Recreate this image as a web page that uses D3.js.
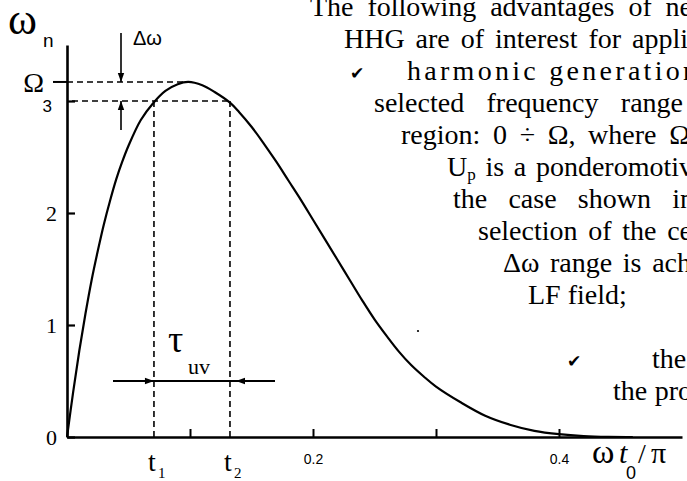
<!DOCTYPE html>
<html>
<head>
<meta charset="utf-8">
<script src="https://cdn.jsdelivr.net/npm/d3@7/dist/d3.min.js"></script>
<style>
  html, body { margin: 0; padding: 0; background: #fff; }
  svg { display: block; }
  text { fill: #000; }
</style>
</head>
<body>
<svg id="chart" width="687" height="481"></svg>
<script>
// ---- data ----
const tValues     = [0, 0.005, 0.01, 0.015, 0.02, 0.025, 0.03, 0.035, 0.04, 0.045, 0.05, 0.06, 0.07, 0.08, 0.09, 0.0986,
                     0.11, 0.12, 0.1325, 0.14, 0.15, 0.16, 0.17, 0.18, 0.19, 0.2, 0.21, 0.22, 0.23, 0.24, 0.25, 0.26,
                     0.27, 0.28, 0.29, 0.3, 0.32, 0.34, 0.36, 0.38, 0.4, 0.42, 0.44, 0.46];
const omegaValues = [0, 0.40, 0.77, 1.10, 1.40, 1.66, 1.90, 2.11, 2.30, 2.46, 2.60, 2.83, 2.98, 3.09, 3.15, 3.17,
                     3.14, 3.08, 2.985, 2.90, 2.77, 2.62, 2.46, 2.29, 2.12, 1.94, 1.76, 1.58, 1.40, 1.22, 1.05, 0.90,
                     0.76, 0.64, 0.54, 0.45, 0.31, 0.19, 0.11, 0.055, 0.025, 0.008, 0.001, 0];
const xTickValues = [0.1, 0.2, 0.3, 0.4];
const xTickLabels = ["", "0.2", "", "0.4"];
const yTickValues = [0, 1, 2, 3];
const yTickLabels = ["0", "1", "2", "3"];
const omegaMax = 3.17;     // Ω
const omegaLevel = 3;      // lower edge of Δω
const t1 = 0.0707, t2 = 0.1325;
const textLines = [
  "The following advantages of ne",
  "HHG are of interest for appli",
  "harmonic generation",
  "selected frequency range",
  "region: 0 \u00F7 \u03A9, where \u03A9",
  "U|p| is a ponderomotiv",
  "the case shown in",
  "selection of the ce",
  "\u0394\u03C9 range is ach",
  "LF field;",
  "",
  "the",
  "the pro"
];
const textX    = [310, 344, 407, 374, 401, 447, 453, 478, 503, 528, 0, 652, 613];
const textEnd  = [692, 688, 697, 683, 690, 693, 694, 692, 691, 621, 0, 685, 692];
const justify  = ["w", "w", "l", "w", "w", "w", "w", "w", "w", "w", "", "w", "w"];
const checkLines = [2, 11];
const checkX = [350, 567];

// ---- setup ----
const svg = d3.select("#chart");
const x = d3.scaleLinear().domain([0, 0.5]).range([67, 682]);
const y = d3.scaleLinear().domain([0, 3.5]).range([437, 45]);
const serif = "'Liberation Serif', 'Times New Roman', Times, 'DejaVu Serif', serif";
const sans = "'Liberation Sans', Arial, Helvetica, sans-serif";

// ---- axes ----
const yAxis = d3.axisLeft(y).tickValues(yTickValues).tickSizeInner(-8).tickSizeOuter(0)
  .tickPadding(10).tickFormat((d, i) => yTickLabels[i]);
const gy = svg.append("g").attr("transform", `translate(${x(0)},0)`).call(yAxis);
gy.select(".domain").attr("stroke", "#000").attr("stroke-width", 2.6);
gy.selectAll(".tick line").attr("stroke", "#000").attr("stroke-width", 2.2);
gy.selectAll(".tick text").style("font-family", serif).attr("font-size", 22).attr("fill", "#000");
gy.selectAll(".tick").filter(d => d === 3).select("text")
  .style("font-family", sans).attr("font-size", 17).attr("x", -15).attr("dy", "0.6em");

const xAxis = d3.axisBottom(x).tickValues(xTickValues).tickSizeInner(-8).tickSizeOuter(0)
  .tickPadding(17).tickFormat((d, i) => xTickLabels[i]);
const gx = svg.append("g").attr("transform", `translate(0,${y(0)})`).call(xAxis);
gx.select(".domain").attr("stroke", "#000").attr("stroke-width", 2.6);
gx.selectAll(".tick line").attr("stroke", "#000").attr("stroke-width", 2);
gx.selectAll(".tick text").style("font-family", sans).attr("font-size", 14).attr("fill", "#000");

// Ω tick (outward) and label
svg.append("line").attr("x1", x(0) - 14).attr("x2", x(0)).attr("y1", y(omegaMax)).attr("y2", y(omegaMax))
  .attr("stroke", "#000").attr("stroke-width", 2);
svg.append("text").attr("x", 44).attr("y", y(omegaMax) + 10).attr("text-anchor", "end")
  .style("font-family", serif).attr("font-size", 28).text("\u03A9");

// ---- dashed guides ----
const dash = "6,4";
const peakT = tValues[omegaValues.indexOf(d3.max(omegaValues))];
svg.append("line").attr("x1", x(0)).attr("x2", x(peakT)).attr("y1", y(omegaMax)).attr("y2", y(omegaMax))
  .attr("stroke", "#000").attr("stroke-width", 1.6).attr("stroke-dasharray", dash);
svg.append("line").attr("x1", x(0) + 5).attr("x2", x(t2)).attr("y1", y(omegaLevel)).attr("y2", y(omegaLevel))
  .attr("stroke", "#000").attr("stroke-width", 1.6).attr("stroke-dasharray", dash);
[t1, t2].forEach(t => {
  svg.append("line").attr("x1", x(t)).attr("x2", x(t)).attr("y1", y(omegaLevel)).attr("y2", y(0))
    .attr("stroke", "#000").attr("stroke-width", 1.6).attr("stroke-dasharray", dash);
});

// ---- curve ----
const pts = tValues.map((t, i) => [t, omegaValues[i]]);
svg.append("path").datum(pts)
  .attr("d", d3.line().x(d => x(d[0])).y(d => y(d[1])).curve(d3.curveCatmullRom.alpha(0.5)))
  .attr("fill", "none").attr("stroke", "#000").attr("stroke-width", 2.2);

// ---- arrow helper ----
function arrowHead(tipX, tipY, dir) {
  const L = 9, W = 3.2;
  let p;
  if (dir === "down") p = [[tipX, tipY], [tipX - W, tipY - L], [tipX + W, tipY - L]];
  if (dir === "up") p = [[tipX, tipY], [tipX - W, tipY + L], [tipX + W, tipY + L]];
  if (dir === "right") p = [[tipX, tipY], [tipX - L, tipY - W], [tipX - L, tipY + W]];
  if (dir === "left") p = [[tipX, tipY], [tipX + L, tipY - W], [tipX + L, tipY + W]];
  svg.append("path").attr("d", "M" + p.map(q => q.join(",")).join("L") + "Z").attr("fill", "#000");
}

// Δω arrows
const dwX = 121;
svg.append("line").attr("x1", dwX).attr("x2", dwX).attr("y1", 33).attr("y2", y(omegaMax))
  .attr("stroke", "#000").attr("stroke-width", 1.6);
arrowHead(dwX, y(omegaMax), "down");
svg.append("line").attr("x1", dwX).attr("x2", dwX).attr("y1", y(omegaLevel)).attr("y2", 130)
  .attr("stroke", "#000").attr("stroke-width", 1.6);
arrowHead(dwX, y(omegaLevel), "up");
svg.append("text").attr("x", 133).attr("y", 45).style("font-family", sans).attr("font-size", 20)
  .text("\u0394\u03C9");

// τuv arrow
const tauY = 381;
svg.append("line").attr("x1", 113).attr("x2", 275).attr("y1", tauY).attr("y2", tauY)
  .attr("stroke", "#000").attr("stroke-width", 1.8);
arrowHead(x(t1), tauY, "right");
arrowHead(x(t2) + 6, tauY, "left");
svg.append("text").attr("x", 168).attr("y", 352).style("font-family", serif).attr("font-size", 38).text("\u03C4");
svg.append("text").attr("x", 188).attr("y", 374).style("font-family", serif).attr("font-size", 22).text("uv");

// t1, t2 labels
[[t1, "1"], [t2, "2"]].forEach(([t, s]) => {
  svg.append("text").attr("x", x(t) - 6).attr("y", 471).style("font-family", serif).attr("font-size", 28).text("t");
  svg.append("text").attr("x", x(t) + 4).attr("y", 478).style("font-family", serif).attr("font-size", 15).text(s);
});

// y label ω_n
svg.append("text").attr("x", 8).attr("y", 34).style("font-family", serif).attr("font-size", 44).text("\u03C9");
svg.append("text").attr("x", 43).attr("y", 47).style("font-family", sans).attr("font-size", 19).text("n");

// x label ωt0/π
svg.append("text").attr("x", 592).attr("y", 463).style("font-family", serif).attr("font-size", 34).text("\u03C9");
svg.append("text").attr("x", 619).attr("y", 463).style("font-family", serif).attr("font-style", "italic").attr("font-size", 30).text("t");
svg.append("text").attr("x", 626).attr("y", 479).style("font-family", sans).attr("font-size", 18).text("0");
svg.append("text").attr("x", 638).attr("y", 463).style("font-family", serif).attr("font-size", 28).text("/");
svg.append("text").attr("x", 651).attr("y", 463).style("font-family", serif).attr("font-size", 30).text("\u03C0");

// ---- paragraph text (justified) ----
const lh = 32, base0 = 16;
textLines.forEach((s, i) => {
  if (!s) return;
  const t = svg.append("text").attr("x", textX[i]).attr("y", base0 + i * lh)
    .style("font-family", serif).attr("font-size", 28);
  const parts = s.split("|");
  if (parts.length === 3) {
    t.append("tspan").text(parts[0]);
    t.append("tspan").attr("font-size", 17).attr("dy", 4).text(parts[1]);
    t.append("tspan").attr("dy", -4).text(parts[2]);
  } else {
    t.text(s);
  }
  const target = textEnd[i] - textX[i];
  const natural = t.node().getComputedTextLength();
  const nSpaces = (parts.join("").match(/ /g) || []).length;
  if (natural < target) {
    if (justify[i] === "l") {
      t.attr("textLength", target).attr("lengthAdjust", "spacing");
    } else if (nSpaces > 0) {
      t.attr("word-spacing", (target - natural) / nSpaces);
    }
  }
});
checkLines.forEach((li, k) => {
  svg.append("text").attr("x", checkX[k]).attr("y", base0 + li * lh - 1)
    .style("font-family", "'DejaVu Sans', sans-serif").attr("font-size", 17).text("\u2714");
});

// small speck
svg.append("circle").attr("cx", 418).attr("cy", 331).attr("r", 1.1).attr("fill", "#000");
</script>
</body>
</html>
